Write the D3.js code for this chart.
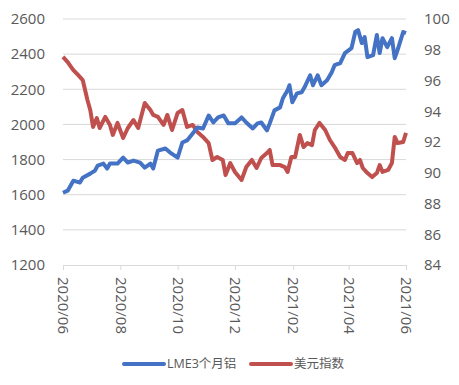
<!DOCTYPE html>
<html>
<head>
<meta charset="utf-8">
<script src="https://cdn.jsdelivr.net/npm/d3@7"></script>
<style>
  body { margin: 0; background: #fff; }
  text { font-family: "Open Sans", "Noto Sans CJK SC", sans-serif; fill: #595959; }
</style>
</head>
<body>
<div id="chart"></div>
<script>
// LME3个月铝 (left axis)
var alDates = ["2020-06-01","2020-06-06","2020-06-12","2020-06-19","2020-06-22","2020-06-30","2020-07-05","2020-07-08",
  "2020-07-14","2020-07-18","2020-07-21","2020-07-29","2020-08-04","2020-08-09","2020-08-15","2020-08-22","2020-08-27",
  "2020-09-02","2020-09-05","2020-09-10","2020-09-18","2020-09-23","2020-10-01","2020-10-06","2020-10-11","2020-10-17",
  "2020-10-22","2020-10-28","2020-11-03","2020-11-08","2020-11-13","2020-11-19","2020-11-24","2020-12-01","2020-12-08",
  "2020-12-13","2020-12-20","2020-12-25","2020-12-29","2021-01-04","2021-01-07","2021-01-12","2021-01-18","2021-01-21",
  "2021-01-26","2021-01-28","2021-01-31","2021-02-05","2021-02-10","2021-02-13","2021-02-19","2021-02-22","2021-02-27",
  "2021-03-03","2021-03-09","2021-03-14","2021-03-17","2021-03-23","2021-03-28","2021-04-04","2021-04-08","2021-04-11",
  "2021-04-15","2021-04-18","2021-04-21","2021-04-27","2021-05-01","2021-05-04","2021-05-07","2021-05-12","2021-05-17",
  "2021-05-20","2021-05-23","2021-05-29","2021-06-01"];
var alValues = [1611,1623,1680,1669,1697,1720,1737,1766,1777,1749,1777,1777,1811,1783,1794,1783,1754,
  1777,1749,1851,1863,1840,1811,1897,1909,1949,1983,1977,2051,2011,2040,2051,2006,2006,2040,
  2011,1977,2006,2011,1966,2006,2080,2097,2149,2194,2223,2126,2177,2183,2211,2280,2223,2280,
  2223,2251,2297,2337,2349,2406,2434,2526,2537,2463,2497,2383,2394,2509,2406,2491,2440,2491,
  2377,2423,2526,2520];

// 美元指数 (right axis)
var usdDates = ["2020-06-01","2020-06-06","2020-06-12","2020-06-17","2020-06-22","2020-06-27","2020-06-30","2020-07-03",
  "2020-07-07","2020-07-10","2020-07-16","2020-07-21","2020-07-24","2020-07-29","2020-08-04","2020-08-09","2020-08-15",
  "2020-08-20","2020-08-27","2020-09-02","2020-09-05","2020-09-10","2020-09-16","2020-09-20","2020-09-25","2020-10-01",
  "2020-10-06","2020-10-11","2020-10-17","2020-10-22","2020-10-28","2020-11-03","2020-11-07","2020-11-12","2020-11-18",
  "2020-11-21","2020-11-26","2020-12-01","2020-12-08","2020-12-13","2020-12-19","2020-12-24","2020-12-29","2021-01-04",
  "2021-01-07","2021-01-10","2021-01-18","2021-01-23","2021-01-26","2021-01-30","2021-02-03","2021-02-08","2021-02-12",
  "2021-02-16","2021-02-21","2021-02-24","2021-03-01","2021-03-07","2021-03-12","2021-03-17","2021-03-23","2021-03-28",
  "2021-03-31","2021-04-05","2021-04-10","2021-04-13","2021-04-16","2021-04-21","2021-04-26","2021-05-01","2021-05-04",
  "2021-05-07","2021-05-13","2021-05-17","2021-05-20","2021-05-23","2021-05-29","2021-06-01"];
var usdValues = [97.53,97.20,96.68,96.36,96.03,94.73,94.08,92.98,93.56,92.91,93.63,93.11,92.46,93.24,92.26,92.91,93.43,
  92.91,94.54,94.08,93.76,93.63,93.11,93.76,92.78,93.89,94.08,92.98,93.11,92.65,92.33,91.93,90.83,91.02,90.83,
  89.85,90.63,90.05,89.53,90.37,90.83,90.31,90.96,91.28,91.48,90.50,90.50,90.37,90.05,91.02,91.02,92.46,91.67,
  91.93,91.80,92.78,93.24,92.78,92.13,91.67,91.02,90.83,91.28,91.28,90.63,90.83,90.31,89.98,89.72,89.98,90.50,
  90.05,90.18,90.63,92.33,91.93,92.00,92.59];

var xTickLabels = ["2020/06","2020/08","2020/10","2020/12","2021/02","2021/04","2021/06"];
var leftTicks = [1200,1400,1600,1800,2000,2200,2400,2600];
var rightTicks = [84,86,88,90,92,94,96,98,100];
var seriesNames = ["LME3个月铝","美元指数"];

var svgWidth = 459;
var svgHeight = 385;
var margin = { top: 19, right: 53, bottom: 120, left: 63 };
var width = svgWidth - margin.left - margin.right;
var height = svgHeight - margin.top - margin.bottom;

var blue = "#4472C4";
var red = "#C0504D";

var parseDate = d3.timeParse("%Y-%m-%d");
var parseTick = d3.timeParse("%Y/%m");

var svg = d3.select("#chart")
  .append("svg")
  .attr("width", svgWidth)
  .attr("height", svgHeight);

var g = svg.append("g").attr("transform", "translate(" + margin.left + "," + margin.top + ")");

var x = d3.scaleTime()
  .domain([parseTick(xTickLabels[0]), parseTick(xTickLabels[xTickLabels.length - 1])])
  .range([0, width]);
var yL = d3.scaleLinear().domain([1200, 2600]).range([height, 0]);
var yR = d3.scaleLinear().domain([84, 100]).range([height, 0]);

// gridlines
g.append("g")
  .selectAll("line")
  .data(leftTicks.slice(1))
  .enter().append("line")
  .attr("x1", 0).attr("x2", width)
  .attr("y1", function(d) { return yL(d); })
  .attr("y2", function(d) { return yL(d); })
  .attr("stroke", "#d9d9d9")
  .attr("stroke-width", 1);

// left axis
var leftAxis = g.append("g")
  .call(d3.axisLeft(yL).tickValues(leftTicks).tickFormat(d3.format("d")).tickSize(0).tickPadding(18));
leftAxis.select(".domain").remove();
leftAxis.selectAll("text").style("font-size", "15px").attr("fill", "#595959");

// right axis
var rightAxis = g.append("g")
  .attr("transform", "translate(" + width + ",0)")
  .call(d3.axisRight(yR).tickValues(rightTicks).tickFormat(d3.format("d")).tickSize(0).tickPadding(18));
rightAxis.select(".domain").remove();
rightAxis.selectAll("text").style("font-size", "15px").attr("fill", "#595959");

// bottom axis
var bottomAxis = g.append("g")
  .attr("transform", "translate(0," + height + ")")
  .call(d3.axisBottom(x)
    .tickValues(xTickLabels.map(function(t) { return parseTick(t); }))
    .tickFormat(d3.timeFormat("%Y/%m"))
    .tickSize(5).tickSizeOuter(0));
bottomAxis.select(".domain").attr("stroke", "#d9d9d9");
bottomAxis.selectAll(".tick line").attr("stroke", "#d9d9d9");
bottomAxis.selectAll("text")
  .style("font-size", "15px")
  .attr("fill", "#595959")
  .attr("transform", "rotate(90)")
  .attr("x", 12)
  .attr("y", 0)
  .attr("dy", "0.35em")
  .style("text-anchor", "start");

// lines
var alData = alDates.map(function(d, i) { return { date: parseDate(d), value: alValues[i] }; });
var usdData = usdDates.map(function(d, i) { return { date: parseDate(d), value: usdValues[i] }; });

g.append("path")
  .datum(usdData)
  .attr("fill", "none")
  .attr("stroke", red)
  .attr("stroke-width", 4)
  .attr("stroke-linejoin", "round")
  .attr("d", d3.line().x(function(d) { return x(d.date); }).y(function(d) { return yR(d.value); }));

g.append("path")
  .datum(alData)
  .attr("fill", "none")
  .attr("stroke", blue)
  .attr("stroke-width", 4)
  .attr("stroke-linejoin", "round")
  .attr("d", d3.line().x(function(d) { return x(d.date); }).y(function(d) { return yL(d.value); }));

// legend
var legend = svg.append("g").attr("transform", "translate(124,364)");
var legendX = [0, 127];
var legendColors = [blue, red];
seriesNames.forEach(function(name, i) {
  legend.append("line")
    .attr("x1", legendX[i]).attr("x2", legendX[i] + 40)
    .attr("y1", 0).attr("y2", 0)
    .attr("stroke", legendColors[i])
    .attr("stroke-width", 4)
    .attr("stroke-linecap", "round");
  legend.append("text")
    .attr("x", legendX[i] + 43)
    .attr("y", 0)
    .attr("dy", "0.35em")
    .style("font-size", "12.5px")
    .text(name);
});
</script>
</body>
</html>
